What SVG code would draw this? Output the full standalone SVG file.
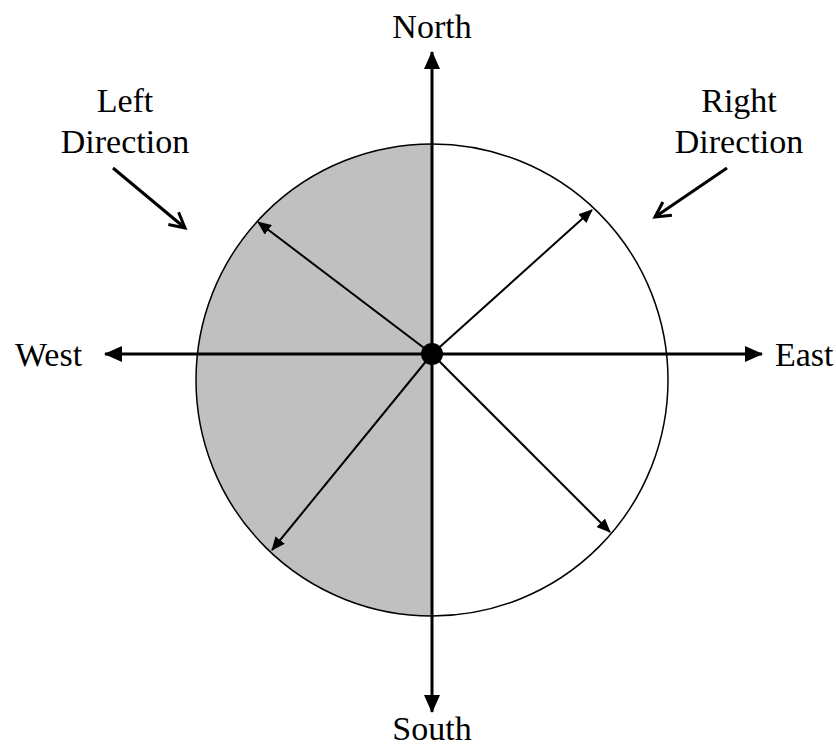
<svg xmlns="http://www.w3.org/2000/svg" width="836" height="749" viewBox="0 0 836 749">
<style>
text{font-family:"Liberation Serif","Times New Roman",serif;font-size:34px;fill:#000}
.axis{stroke:#000;stroke-width:3;fill:none}
.diag{stroke:#000;stroke-width:2;fill:none}
.pointer{stroke:#000;stroke-width:3;fill:none}
</style>
<defs>
<marker id="axisHead" markerUnits="userSpaceOnUse" markerWidth="18" markerHeight="16" refX="17" refY="8" orient="auto-start-reverse" viewBox="0 0 18 16">
<path d="M0,0 L18,8 L0,16 Z" fill="#000"/>
</marker>
<marker id="diagHead" markerUnits="userSpaceOnUse" markerWidth="14" markerHeight="12" refX="13" refY="6" orient="auto-start-reverse" viewBox="0 0 14 12">
<path d="M0,0 L14,6 L0,12 Z" fill="#000"/>
</marker>
<marker id="openHead" markerUnits="userSpaceOnUse" markerWidth="22" markerHeight="22" refX="18" refY="11" orient="auto" viewBox="0 0 22 22">
<path d="M3,3 L18,11 L3,19" fill="none" stroke="#000" stroke-width="3"/>
</marker>
</defs>
<g id="circle">
<path d="M432,144 A236,236 0 0 0 432,616 Z" fill="#c0c0c0"/>
<circle cx="432" cy="380" r="236" fill="none" stroke="#000" stroke-width="1.5"/>
</g>
<g id="connectors">
<line class="axis" x1="432" y1="52" x2="432" y2="712" marker-start="url(#axisHead)" marker-end="url(#axisHead)"/>
<line class="axis" x1="105" y1="354" x2="762" y2="354" marker-start="url(#axisHead)" marker-end="url(#axisHead)"/>
<line class="diag" x1="432" y1="354" x2="258" y2="222" marker-end="url(#diagHead)"/>
<line class="diag" x1="432" y1="354" x2="592" y2="210" marker-end="url(#diagHead)"/>
<line class="diag" x1="432" y1="354" x2="272" y2="550" marker-end="url(#diagHead)"/>
<line class="diag" x1="432" y1="354" x2="610" y2="532" marker-end="url(#diagHead)"/>
<line class="pointer" x1="113" y1="168" x2="185" y2="228" marker-end="url(#openHead)"/>
<line class="pointer" x1="727" y1="168" x2="655" y2="217" marker-end="url(#openHead)"/>
</g>
<g id="center">
<circle cx="432" cy="354" r="11" fill="#000"/>
</g>
<g id="north"><text x="432" y="38" text-anchor="middle">North</text></g>
<g id="south"><text x="432" y="740" text-anchor="middle">South</text></g>
<g id="west"><text x="15" y="366">West</text></g>
<g id="east"><text x="775" y="366">East</text></g>
<g id="left-direction">
<text x="125" y="112" text-anchor="middle">Left</text>
<text x="125" y="153" text-anchor="middle">Direction</text>
</g>
<g id="right-direction">
<text x="739" y="112" text-anchor="middle">Right</text>
<text x="739" y="153" text-anchor="middle">Direction</text>
</g>
</svg>
